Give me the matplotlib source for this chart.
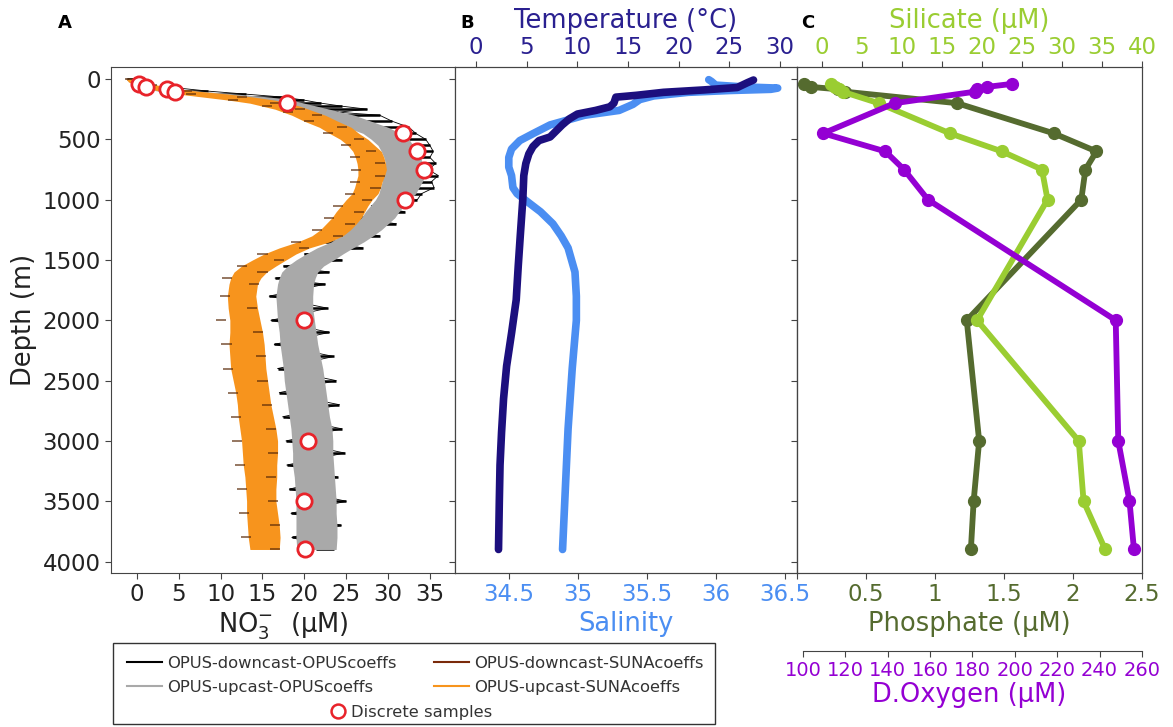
import matplotlib.pyplot as plt
from matplotlib.lines import Line2D
from matplotlib.patches import Rectangle

# ---- panel A: NO3- profiles (uM) against depth (m)
no3_depth = [0, 25, 50, 75, 100, 125, 150, 175, 200, 225, 250, 275, 300, 350, 400, 450,
             500, 550, 600, 650, 700, 750, 800, 850, 900, 950, 1000, 1050, 1100, 1150,
             1200, 1250, 1300, 1350, 1400, 1450, 1500, 1550, 1600, 1650, 1700, 1800,
             1900, 2000, 2100, 2200, 2300, 2400, 2500, 2600, 2700, 2800, 2900, 3000,
             3100, 3200, 3300, 3400, 3500, 3600, 3700, 3800, 3900]
up_opus_lo = [-1.0, -0.7, -0.2, 0.8, 2.5, 5.5, 9.0, 12.0, 14.5, 16.5, 17.5, 19.0, 20.5, 22.5,
              25.0, 27.0, 28.0, 28.8, 29.2, 29.5, 29.7, 29.6, 29.4, 29.3, 29.1, 28.9, 28.5,
              27.9, 27.3, 26.8, 26.0, 25.2, 24.3, 23.2, 21.5, 20.2, 19.0, 18.0, 17.3, 17.0,
              16.8, 16.6, 16.7, 16.8, 17.0, 17.1, 17.3, 17.5, 17.6, 17.8, 18.0, 18.2, 18.4,
              18.5, 18.6, 18.6, 18.8, 18.9, 19.0, 19.0, 19.0, 19.0, 19.1]
up_opus_hi = [0.6, 1.2, 2.2, 4.2, 7.5, 12.0, 16.0, 18.5, 20.0, 21.5, 23.0, 24.5, 26.0, 28.0,
              30.0, 31.5, 32.5, 33.0, 33.6, 33.9, 34.1, 34.3, 34.4, 34.1, 33.7, 33.3, 32.5,
              31.9, 31.3, 30.8, 30.0, 29.2, 28.2, 27.1, 25.8, 24.6, 23.5, 22.3, 21.6, 21.3,
              21.1, 21.0, 21.0, 21.2, 21.4, 21.6, 21.9, 22.2, 22.4, 22.6, 22.8, 23.0, 23.3,
              23.4, 23.4, 23.5, 23.6, 23.7, 23.8, 23.8, 23.9, 23.9, 23.8]
up_suna_lo = [-1.3, -1.0, 0.0, 1.0, 2.8, 5.0, 8.0, 11.0, 13.5, 15.0, 16.5, 17.5, 18.5, 20.0,
              21.8, 23.0, 24.3, 25.2, 25.8, 26.1, 26.3, 26.4, 26.4, 26.2, 26.0, 25.7, 25.0,
              24.4, 23.8, 23.3, 22.6, 21.9, 20.9, 19.2, 17.0, 15.2, 13.8, 12.5, 11.6, 11.2,
              11.0, 10.8, 10.9, 11.1, 11.1, 11.0, 11.1, 11.2, 11.5, 11.8, 12.0, 12.1, 12.3,
              12.5, 12.6, 12.7, 12.9, 13.0, 13.1, 13.1, 13.2, 13.3, 13.5]
up_suna_hi = [0.8, 1.0, 2.4, 4.4, 7.2, 11.0, 14.0, 16.5, 18.0, 19.5, 20.5, 21.5, 22.5, 24.0,
              25.6, 26.5, 27.6, 28.4, 29.2, 29.5, 29.7, 29.8, 29.6, 29.3, 29.1, 28.8, 28.1,
              27.6, 27.2, 26.8, 26.2, 25.5, 24.6, 23.0, 20.6, 19.0, 17.8, 16.6, 15.5, 14.8,
              14.4, 14.2, 14.4, 14.7, 15.0, 15.2, 15.3, 15.4, 15.6, 15.8, 16.0, 16.3, 16.6,
              16.8, 16.8, 16.7, 16.7, 16.6, 16.6, 16.8, 17.0, 17.1, 17.0]
down_opus = [-1.2, 1.5, -0.5, 5.0, 8.5, 13.0, 17.5, 20.0, 22.0, 24.5, 27.5, 24.0, 29.0, 30.5,
             32.5, 33.3, 34.5, 35.0, 35.4, 35.0, 35.7, 34.8, 36.0, 35.2, 35.5, 34.0, 33.5,
             28.0, 32.0, 26.0, 31.0, 24.5, 29.0, 22.5, 27.0, 20.0, 24.5, 17.5, 23.0, 16.5,
             22.5, 15.8, 22.8, 16.0, 23.0, 16.4, 23.5, 16.8, 23.8, 17.0, 24.2, 17.4, 24.5,
             17.8, 24.8, 17.9, 24.0, 18.2, 25.0, 18.4, 24.4, 18.5, 23.5]
down_suna = [-0.8, 0.5, 1.8, 1.5, 6.0, 6.5, 12.5, 11.5, 16.5, 15.5, 19.5, 18.0, 21.5, 20.5,
             24.5, 22.8, 26.5, 25.0, 28.0, 26.0, 29.0, 26.2, 29.0, 26.0, 28.5, 25.5, 27.5,
             24.0, 26.5, 23.0, 25.5, 21.5, 24.0, 19.0, 20.0, 15.0, 17.0, 12.5, 15.0, 10.8,
             14.0, 10.5, 13.8, 10.0, 14.5, 10.7, 14.8, 10.9, 15.0, 11.5, 15.5, 11.8, 16.0,
             12.0, 16.2, 12.3, 16.0, 12.6, 16.2, 12.8, 16.5, 13.0, 16.5]

# discrete bottle samples
sample_depth = [40, 65, 85, 105, 200, 450, 600, 750, 1000, 2000, 3000, 3500, 3900]
sample_no3 = [0.3, 1.1, 3.6, 4.5, 17.9, 31.8, 33.5, 34.3, 32.0, 19.9, 20.4, 19.9, 20.1]

# ---- panel B: CTD temperature and salinity
temp_depth = [8, 30, 70, 90, 110, 135, 150, 200, 230, 260, 290, 330, 380, 430, 480, 510,
              560, 620, 700, 800, 1000, 1300, 1550, 1830, 2100, 2380, 2650, 2930, 3200,
              3500, 3900]
temp = [27.4, 26.8, 25.8, 22.5, 18.5, 15.8, 13.8, 13.6, 13.2, 11.8, 10.0, 9.2, 8.5, 7.9,
        7.3, 6.2, 5.6, 5.2, 4.9, 4.7, 4.6, 4.35, 4.15, 3.95, 3.5, 3.0, 2.7, 2.5, 2.35,
        2.28, 2.2]
sal_depth = [5, 20, 50, 65, 75, 85, 95, 110, 140, 170, 210, 260, 300, 380, 450, 510, 580,
             650, 730, 800, 900, 950, 1030, 1100, 1200, 1300, 1400, 1600, 1800, 2000,
             2400, 2900, 3400, 3900]
sal = [35.95, 35.97, 36.0, 36.2, 36.45, 36.4, 36.1, 35.8, 35.55, 35.45, 35.4, 35.3, 35.05,
       34.8, 34.68, 34.58, 34.52, 34.5, 34.5, 34.52, 34.53, 34.56, 34.65, 34.73, 34.82,
       34.88, 34.93, 34.98, 34.99, 34.99, 34.96, 34.93, 34.91, 34.89]

# ---- panel C: nutrients and oxygen at the sample depths
phosphate = [0.05, 0.10, 0.30, 0.35, 1.16, 1.86, 2.17, 2.09, 2.06, 1.23, 1.32, 1.28, 1.26]
silicate = [1.1, 1.6, 2.2, 2.6, 7.1, 16.0, 22.5, 27.5, 28.2, 19.4, 32.1, 32.7, 35.4]
oxygen = [198.7, 186.8, 182.0, 181.0, 143.3, 109.6, 138.9, 147.7, 159.0, 247.6, 248.8,
          254.1, 256.2]

W, H = 1173, 727
fig = plt.figure(figsize=(W / 100, H / 100), dpi=100)


def box(left, right, top, bottom):
    return [left / W, 1 - bottom / H, (right - left) / W, (bottom - top) / H]


spine_col = '#444444'
text_col = '#222222'
tick_fs = 16.5
label_fs = 18.5

axA = fig.add_axes(box(111, 455, 67, 573))
axB = fig.add_axes(box(455, 797, 67, 573), sharey=axA)
axC = fig.add_axes(box(797, 1142, 67, 573), sharey=axA)

for ax in (axA, axB, axC):
    for s in ax.spines.values():
        s.set_color(spine_col)
    ax.tick_params(colors=spine_col, length=4, labelsize=tick_fs)

# panel A: bands are the upcast spread, downcasts show as spikes around them
opus_mid = [(a + b) / 2 for a, b in zip(up_opus_lo, up_opus_hi)]
axA.hlines(no3_depth, opus_mid, down_opus, color='black', lw=1.8, zorder=1)
axA.plot(down_opus, no3_depth, color='black', lw=0.6, zorder=1)
axA.fill_betweenx(no3_depth, up_opus_lo, up_opus_hi, color='#a9a9a9', lw=0, zorder=2)
axA.fill_betweenx(no3_depth, up_suna_lo, up_suna_hi, color='#f7941d', lw=0, zorder=3)
axA.hlines(no3_depth, [v - 0.6 for v in down_suna], [v + 0.6 for v in down_suna],
           color='#5a2a08', lw=1.2, alpha=0.75, zorder=4)
axA.plot(sample_no3, sample_depth, 'o', mfc='white', mec='#e8232a', mew=2, ms=11, zorder=5)
axA.set_ylim(4095, -100)
axA.set_yticks(range(0, 4001, 500))
axA.set_yticklabels([str(v) for v in range(0, 4001, 500)], color=text_col)
axA.set_xlim(-3.1, 38)
axA.set_xticks(range(0, 36, 5))
axA.set_xticklabels([str(v) for v in range(0, 36, 5)], color=text_col)
axA.set_ylabel('Depth (m)', fontsize=label_fs, color=text_col)
axA.set_xlabel(r'NO$_3^{-}$  (µM)', fontsize=label_fs, color=text_col, labelpad=3)

# panel B
sal_col = '#4b8ef2'
temp_col = '#1c0f7e'
axB.plot(sal, sal_depth, color=sal_col, lw=5.5, solid_capstyle='round')
axB.set_xlim(34.11, 36.59)
axB.set_xticks([34.5, 35, 35.5, 36, 36.5])
axB.set_xticklabels(['34.5', '35', '35.5', '36', '36.5'], color=sal_col)
axB.set_xlabel('Salinity', fontsize=label_fs, color=sal_col, labelpad=3)
axB.tick_params(labelleft=False)

axBt = axB.twiny()
axBt.plot(temp, temp_depth, color=temp_col, lw=5.5, solid_capstyle='round')
axBt.set_xlim(-2.1, 31.7)
axBt.set_xticks(range(0, 31, 5))
axBt.set_xticklabels([str(v) for v in range(0, 31, 5)], color='#2a2090')
axBt.tick_params(colors=spine_col, labelcolor='#2a2090', length=4, pad=1.5,
                 labelsize=tick_fs)
axBt.set_xlabel('Temperature (°C)', fontsize=label_fs, color='#2a2090', labelpad=6)
for s in axBt.spines.values():
    s.set_color(spine_col)

# panel C
phos_col = 'darkolivegreen'
sil_col = 'yellowgreen'
oxy_col = 'darkviolet'
axC.plot(phosphate, sample_depth, '-o', color=phos_col, lw=4.2, ms=8.5)
axC.set_xlim(0, 2.5)
axC.set_xticks([0, 0.5, 1, 1.5, 2, 2.5])
axC.set_xticklabels(['', '0.5', '1', '1.5', '2', '2.5'], color=phos_col)
axC.set_xlabel('Phosphate (µM)', fontsize=label_fs, color=phos_col, labelpad=3)
axC.tick_params(labelleft=False)

axCs = axC.twiny()
axCs.plot(silicate, sample_depth, '-o', color=sil_col, lw=4.2, ms=8.5)
axCs.set_xlim(-3.1, 40)
axCs.set_xticks(range(0, 41, 5))
axCs.set_xticklabels([str(v) for v in range(0, 41, 5)], color=sil_col)
axCs.tick_params(colors=spine_col, labelcolor=sil_col, length=4, pad=1.5,
                 labelsize=tick_fs)
axCs.set_xlabel('Silicate (µM)', fontsize=label_fs, color=sil_col, labelpad=6)
for s in axCs.spines.values():
    s.set_color(spine_col)

axCo = axC.twiny()
axCo.plot(oxygen, sample_depth, '-o', color=oxy_col, lw=4.2, ms=8.5)
axCo.set_xlim(97.2, 260)
axCo.xaxis.set_ticks_position('bottom')
axCo.xaxis.set_label_position('bottom')
axCo.spines['bottom'].set_position(('outward', 56))
axCo.spines['bottom'].set_bounds(100, 260)
axCo.spines['bottom'].set_color(spine_col)
for side in ('top', 'left', 'right'):
    axCo.spines[side].set_visible(False)
axCo.set_xticks(range(100, 261, 20))
axCo.set_xticklabels([str(v) for v in range(100, 261, 20)], color=oxy_col)
axCo.tick_params(colors=spine_col, labelcolor=oxy_col, length=4, labelsize=14)
axCo.set_xlabel('D.Oxygen (µM)', fontsize=label_fs, color=oxy_col, labelpad=1)

# panel letters
for letter, x in (('A', 65), ('B', 467), ('C', 808)):
    fig.text(x / W, 1 - 23 / H, letter, fontsize=13, weight='bold', ha='center', va='center')

# legend: frame drawn separately, four lines in two columns, samples centred below
fig.patches.append(Rectangle((113 / W, 1 - 724 / H), (715 - 113) / W, (724 - 643) / H,
                             transform=fig.transFigure, fill=False, ec='#333333', lw=1.0))
handles = [Line2D([], [], color='black', lw=1.5),
           Line2D([], [], color='#a9a9a9', lw=1.5),
           Line2D([], [], color='#7a2a0a', lw=1.5),
           Line2D([], [], color='#f7941d', lw=1.5)]
labels = ['OPUS-downcast-OPUScoeffs', 'OPUS-upcast-OPUScoeffs',
          'OPUS-downcast-SUNAcoeffs', 'OPUS-upcast-SUNAcoeffs']
leg = fig.legend(handles, labels, ncol=2, loc='upper left',
                 bbox_to_anchor=(127 / W, 1 - 656 / H), fontsize=11.8, frameon=False,
                 borderaxespad=0, borderpad=0, handlelength=2.13, handletextpad=0.3,
                 columnspacing=2.3, labelspacing=0.55)
for t in leg.get_texts():
    t.set_color('#333333')
leg2 = fig.legend([Line2D([], [], ls='none', marker='o', mfc='white', mec='#e8232a',
                          mew=1.8, ms=10)],
                  ['Discrete samples'], loc='center', bbox_to_anchor=(411 / W, 1 - 712 / H),
                  frameon=False, fontsize=11.8, handletextpad=0.3, handlelength=1.0,
                  borderpad=0)
leg2.get_texts()[0].set_color('#333333')

fig.savefig('out.png', dpi=100)
